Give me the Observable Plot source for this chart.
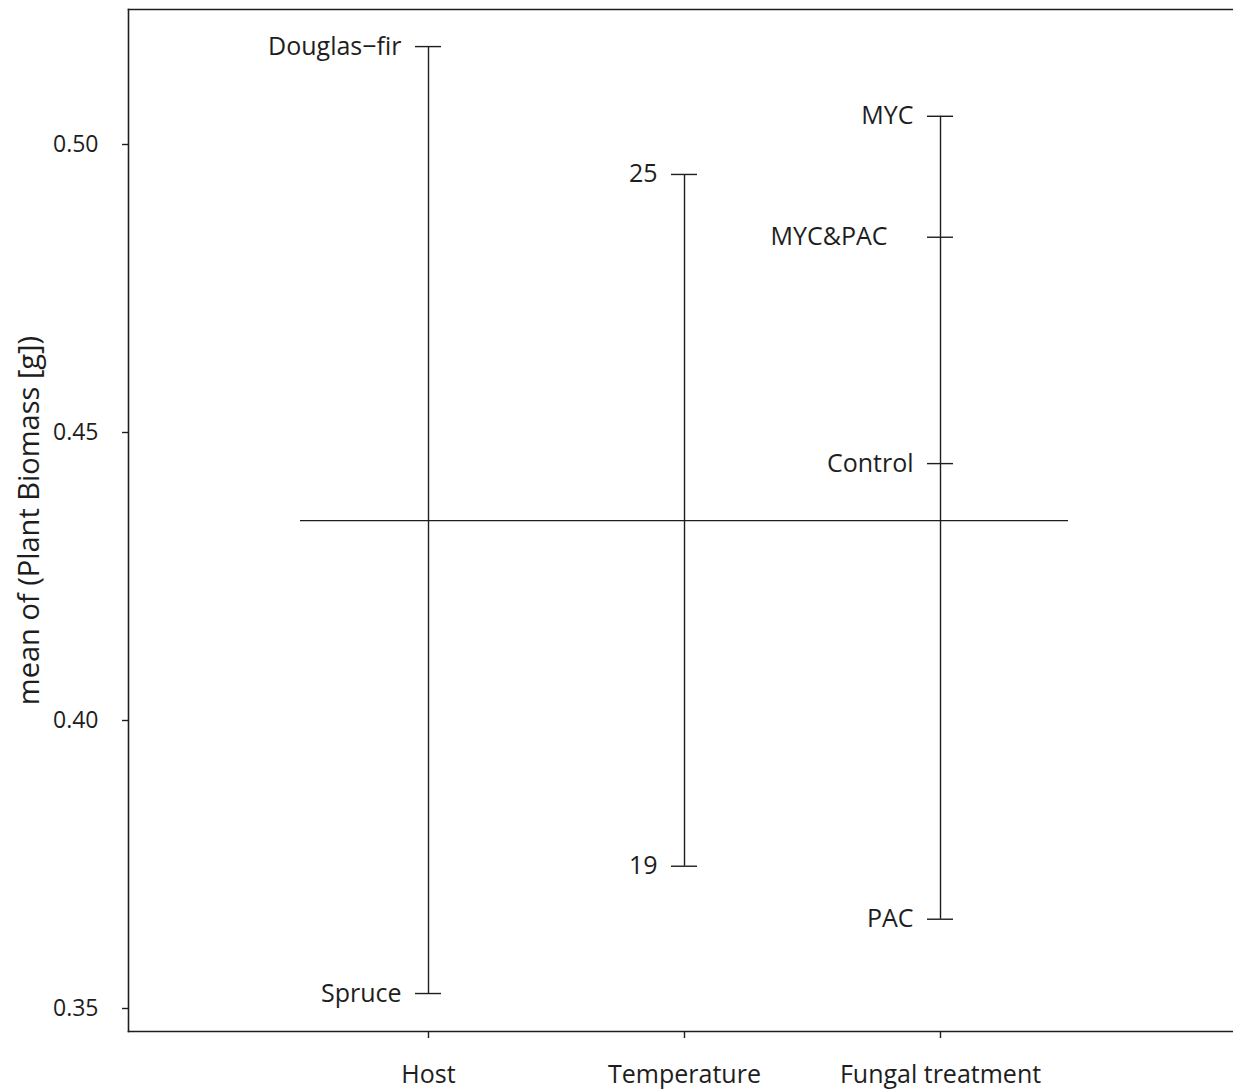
<!DOCTYPE html>
<html>
<head>
<meta charset="utf-8">
<script src="https://cdn.jsdelivr.net/npm/d3@7"></script>
<script src="https://cdn.jsdelivr.net/npm/@observablehq/plot@0.6"></script>
<style>
  html, body { margin: 0; padding: 0; background: #fff; }
  #chart svg { display: block; }
</style>
</head>
<body>
<div id="chart"></div>
<script>
// Design plot: mean plant biomass for each level of each factor
const factors = ["Host", "Temperature", "Fungal treatment"];
const factorPos = [1, 2, 3];

const hostLevels = ["Douglas\u2212fir", "Spruce"];
const hostMeans = [0.5170, 0.3526];

const tempLevels = ["25", "19"];
const tempMeans = [0.4948, 0.3747];

// the combined treatment's level name carries trailing spaces
const fungalLevels = ["MYC", "MYC&PAC\u00a0\u00a0\u00a0\u00a0", "Control", "PAC"];
const fungalMeans = [0.5049, 0.4839, 0.4446, 0.3655];

const grandMean = 0.4347;
const yTicks = [0.35, 0.40, 0.45, 0.50];
const yTitle = "mean of (Plant Biomass [g])";

// long table of level means, one row per level
const levels = [
  ...hostLevels.map((l, i) => ({pos: factorPos[0], level: l, mean: hostMeans[i]})),
  ...tempLevels.map((l, i) => ({pos: factorPos[1], level: l, mean: tempMeans[i]})),
  ...fungalLevels.map((l, i) => ({pos: factorPos[2], level: l, mean: fungalMeans[i]}))
];

// one vertical range per factor
const ranges = factorPos.map(p => {
  const v = levels.filter(d => d.pos === p).map(d => d.mean);
  return {pos: p, lo: d3.min(v), hi: d3.max(v)};
});

const ink = "#1e1e1e";
const font = "'Open Sans', sans-serif";

const chart = Plot.plot({
  width: 1233,
  height: 1090,
  marginLeft: 128,
  marginRight: 0,
  marginTop: 9,
  marginBottom: 59,
  style: {fontFamily: font, color: ink, background: "#fff"},
  x: {domain: [-0.1719, 4.1445], axis: null},
  y: {domain: [0.346007, 0.523438], axis: null},
  marks: [
    Plot.frame({anchor: "left", stroke: ink, strokeWidth: 1.6}),
    Plot.frame({anchor: "top", stroke: ink, strokeWidth: 1.6}),
    Plot.frame({anchor: "bottom", stroke: ink, strokeWidth: 1.6}),
    Plot.axisY(yTicks, {
      anchor: "left", tickSize: 6, tickPadding: 24, tickFormat: d3.format(".2f"),
      fontSize: 23, stroke: ink, strokeWidth: 1.4, fill: ink, label: null
    }),
    Plot.axisX(factorPos, {
      anchor: "bottom", tickSize: 7, tickPadding: 27,
      tickFormat: (d, i) => factors[i], fontSize: 25, stroke: ink, strokeWidth: 1.4, fill: ink, label: null
    }),
    Plot.text([yTitle], {
      frameAnchor: "left", textAnchor: "middle", dx: -99, rotate: -90, fontSize: 29, fill: ink, text: d => d
    }),
    // grand mean
    Plot.ruleY([grandMean], {x1: 0.5, x2: 3.5, stroke: ink, strokeWidth: 1.4}),
    // factor ranges
    Plot.ruleX(ranges, {x: "pos", y1: "lo", y2: "hi", stroke: ink, strokeWidth: 1.4}),
    // level ticks
    Plot.ruleY(levels, {x1: "pos", x2: "pos", y: "mean", insetLeft: -13, insetRight: -13, stroke: ink, strokeWidth: 1.4}),
    // level names
    Plot.text(levels, {x: "pos", y: "mean", text: "level", dx: -27, textAnchor: "end", fontSize: 25, fill: ink})
  ]
});

document.getElementById("chart").appendChild(chart);
</script>
</body>
</html>
